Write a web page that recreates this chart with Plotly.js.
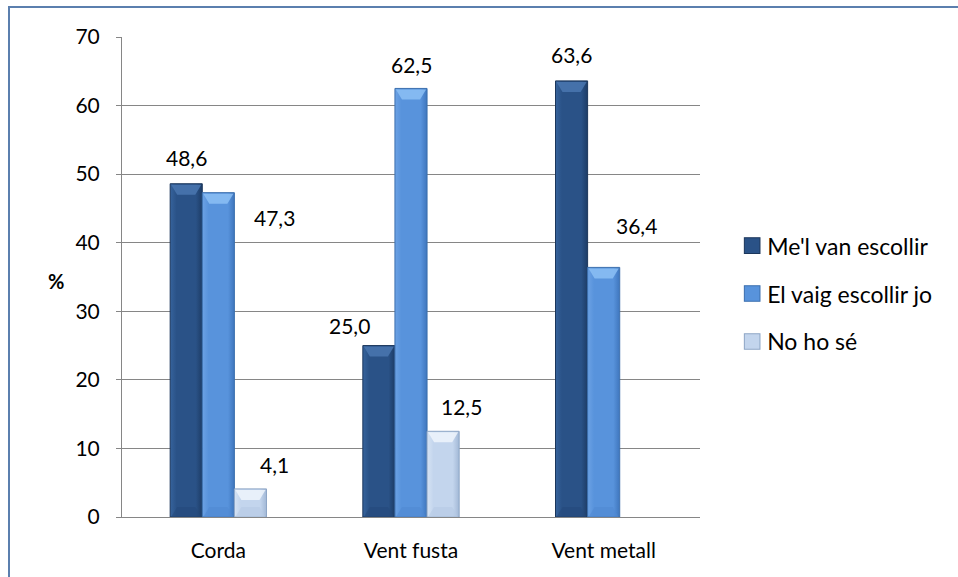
<!DOCTYPE html>
<html>
<head>
<meta charset="utf-8">
<script src="https://cdn.plot.ly/plotly-3.0.1.min.js"></script>
<style>
  html, body { margin: 0; padding: 0; background: #fff; }
  #wrap { position: relative; width: 958px; height: 577px; overflow: hidden; }
  #chart { width: 958px; height: 577px; }
  #frame {
    position: absolute; left: 8px; top: 6px; width: 1000px; height: 700px;
    border-left: 2px solid #5b7fae; border-top: 2px solid #5b7fae;
    pointer-events: none;
  }
</style>
</head>
<body>
<div id="wrap">
  <div id="chart"></div>
  <div id="frame"></div>
</div>
<script>
// Instrument families and answers to "who chose your instrument?"
const categories = ['Corda', 'Vent fusta', 'Vent metall'];
const seriesNames = ["Me'l van escollir", 'El vaig escollir jo', 'No ho sé'];
const meLVanEscollir = [48.6, 25.0, 63.6];
const elVaigEscollirJo = [47.3, 62.5, 36.4];
const noHoSe = [4.1, 12.5, 0];
const yTicks = [0, 10, 20, 30, 40, 50, 60, 70];

const seriesValues = [meLVanEscollir, elVaigEscollirJo, noHoSe];
const fills = ['#2a5287', '#5893dc', '#c3d5ed'];
const edges = ['#1b365b', '#3b6fae', '#8ea6c6'];
const gradStops = [
  ['#36639c', '#2a5287', '#2a5287', '#1d3c66'],
  ['#6ca2e4', '#5893dc', '#5893dc', '#3f76bd'],
  ['#d6e3f4', '#c3d5ed', '#c3d5ed', '#a2b8d6']
];
const capColors = ['#4a77b0', '#8cc0f4', '#eef4fb'];
const footColors = ['#244a7c', '#5089d2', '#b5c9e4'];

// Pixel offsets for each value label, relative to the top of its bar
const labelShift = [
  [[0, 26], [-30, 20], [0, 26]],
  [[56, -25], [0, 24], [33, 42]],
  [[24, 24], [18, 25], null]
];

const fmt = v => v.toFixed(1).replace('.', ',');
const font = 'Lato, "Open Sans", "DejaVu Sans", sans-serif';

const traces = seriesNames.map((name, i) => ({
  type: 'bar',
  name: name,
  x: categories,
  y: seriesValues[i],
  legendgroup: 'g' + i,
  marker: {
    color: fills[i],
    line: { color: edges[i], width: seriesValues[i].map(v => (v > 0 ? 1 : 0)) }
  },
  hoverinfo: 'x+y+name'
}));

const annotations = [];
seriesValues.forEach((vals, i) => {
  vals.forEach((v, j) => {
    const s = labelShift[i][j];
    if (!s) return;
    annotations.push({
      x: categories[j], y: v, xref: 'x', yref: 'y',
      text: fmt(v), showarrow: false,
      xshift: (i - 1) * 32 + s[0], yshift: s[1],
      font: { family: font, size: 21, color: '#000' }
    });
  });
});
// axis unit, set horizontally to the left of the plot
annotations.push({
  x: (56 - 122) / 578, y: (517 - 281) / 480, xref: 'paper', yref: 'paper',
  xanchor: 'center', yanchor: 'middle',
  text: '<b>%</b>', showarrow: false,
  font: { family: font, size: 20, color: '#000' }
});

const layout = {
  width: 958, height: 577,
  margin: { l: 122, r: 258, t: 37, b: 60 },
  paper_bgcolor: '#fff', plot_bgcolor: '#fff',
  font: { family: font, size: 21, color: '#000' },
  barmode: 'group', bargap: 0.5, bargroupgap: 0,
  showlegend: true,
  legend: {
    x: 1.047, xanchor: 'left', y: 0.61, yanchor: 'top',
    font: { family: font, size: 23, color: '#000' },
    tracegroupgap: 15, itemwidth: 30, bgcolor: 'rgba(0,0,0,0)'
  },
  xaxis: {
    type: 'category', showline: true, linecolor: '#868686', linewidth: 1,
    ticks: '', showgrid: false, ticklabelstandoff: 15,
    tickfont: { family: font, size: 21, color: '#000' }, fixedrange: true
  },
  yaxis: {
    range: [0, 70], tickvals: yTicks, ticktext: yTicks.map(String),
    showline: true, linecolor: '#868686', linewidth: 1,
    ticks: 'outside', ticklen: 5, tickcolor: '#868686',
    showgrid: true, gridcolor: '#868686', gridwidth: 1, zeroline: false,
    ticklabelstandoff: 12,
    tickfont: { family: font, size: 21, color: '#000' }, fixedrange: true
  },
  annotations: annotations
};

const ns = 'http://www.w3.org/2000/svg';

// bevel: a light chevron at the top and a soft one at the foot of a box
function addBevel(parent, bb, i, footToo) {
  if (bb.height < 1 || bb.width < 1) return;
  const x0 = bb.x, x1 = bb.x + bb.width, y0 = bb.y, y1 = bb.y + bb.height;
  const inset = Math.min(7, bb.width * 0.22);
  const depth = Math.min(11, bb.height / 2);
  const cap = document.createElementNS(ns, 'polygon');
  cap.setAttribute('points',
    `${x0 + 1},${y0 + 1} ${x1 - 1},${y0 + 1} ${x1 - inset},${y0 + depth} ${x0 + inset},${y0 + depth}`);
  cap.setAttribute('fill', capColors[i]);
  cap.setAttribute('opacity', '0.85');
  parent.appendChild(cap);
  if (!footToo) return;
  const foot = document.createElementNS(ns, 'polygon');
  const fd = Math.min(10, bb.height / 2);
  foot.setAttribute('points',
    `${x0 + 1},${y1} ${x1 - 1},${y1} ${x1 - inset},${y1 - fd} ${x0 + inset},${y1 - fd}`);
  foot.setAttribute('fill', footColors[i]);
  foot.setAttribute('opacity', '0.6');
  parent.appendChild(foot);
}

Plotly.newPlot('chart', traces, layout, { displayModeBar: false, staticPlot: true }).then(gd => {
  const svg = gd.querySelector('.main-svg');
  let defs = svg.querySelector('defs');
  if (!defs) { defs = document.createElementNS(ns, 'defs'); svg.insertBefore(defs, svg.firstChild); }
  gradStops.forEach((stops, i) => {
    const g = document.createElementNS(ns, 'linearGradient');
    g.setAttribute('id', 'barShade' + i);
    g.setAttribute('x1', '0'); g.setAttribute('x2', '1');
    g.setAttribute('y1', '0'); g.setAttribute('y2', '0');
    [0, 0.2, 0.8, 1].forEach((o, k) => {
      const st = document.createElementNS(ns, 'stop');
      st.setAttribute('offset', o);
      st.setAttribute('stop-color', stops[k]);
      g.appendChild(st);
    });
    defs.appendChild(g);
  });
  gd.querySelectorAll('.barlayer .trace').forEach((tr, i) => {
    tr.querySelectorAll('path').forEach(p => {
      p.style.fill = 'url(#barShade' + i + ')';
      addBevel(p.parentNode, p.getBBox(), i, true);
    });
  });
  // larger legend swatches, nudged toward their labels
  gd.querySelectorAll('.legend .traces').forEach((tr, i) => {
    tr.querySelectorAll('.legendpoints path').forEach(p => {
      const t = p.getAttribute('transform') || '';
      p.setAttribute('transform', t + ' translate(5,0) scale(1.3)');
      p.style.strokeWidth = '0.8px';
    });
  });
});
</script>
</body>
</html>
